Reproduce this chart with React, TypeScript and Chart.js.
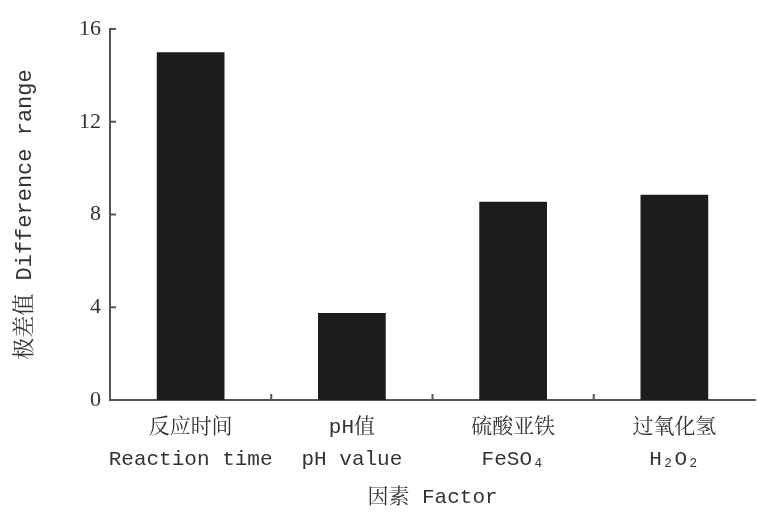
import React, { useEffect, useRef } from "react";
import { Chart, registerables } from "chart.js";

Chart.register(...registerables);

const categoriesCn = ["反应时间", "pH值", "硫酸亚铁", "过氧化氢"];
const categoriesEn = ["Reaction time", "pH value", "FeSO₄", "H₂O₂"];
const rangeValues = [15.0, 3.75, 8.55, 8.85];
const yTicks = [0, 4, 8, 12, 16];

const MONO = "'Liberation Mono', 'Noto Serif CJK SC', 'Noto Sans CJK SC', monospace";
const SERIF = "'Liberation Serif', serif";
const AXIS_COLOR = "#555555";
const TEXT_COLOR = "#333333";

const innerTicks = {
  id: "innerTicks",
  afterDraw(chart: any) {
    const ctx = chart.ctx;
    const x = chart.scales.x;
    const y = chart.scales.y;
    const area = chart.chartArea;
    ctx.save();
    ctx.strokeStyle = AXIS_COLOR;
    ctx.lineWidth = 2;
    yTicks.forEach((v) => {
      const py = y.getPixelForValue(v);
      ctx.beginPath();
      ctx.moveTo(area.left, py);
      ctx.lineTo(area.left + 6, py);
      ctx.stroke();
    });
    const n = categoriesCn.length;
    for (let i = 0; i < n - 1; i++) {
      const px = (x.getPixelForValue(i) + x.getPixelForValue(i + 1)) / 2;
      ctx.beginPath();
      ctx.moveTo(px, area.bottom);
      ctx.lineTo(px, area.bottom - 6);
      ctx.stroke();
    }
    ctx.restore();
  },
};

export default function App() {
  const ref = useRef<HTMLCanvasElement>(null);
  useEffect(() => {
    document.body.style.margin = "0";
    const chart = new Chart(ref.current as HTMLCanvasElement, {
      type: "bar",
      data: {
        labels: categoriesCn.map((c, i) => [c, categoriesEn[i]]),
        datasets: [
          {
            data: rangeValues,
            backgroundColor: "#1c1c1c",
            borderWidth: 0,
            categoryPercentage: 0.42,
            barPercentage: 1,
          },
        ],
      },
      options: {
        animation: false,
        responsive: false,
        layout: { padding: { top: 29, right: 2, left: 0, bottom: 0 } },
        plugins: { legend: { display: false }, tooltip: { enabled: false } },
        scales: {
          x: {
            offset: true,
            grid: { display: false, drawTicks: false },
            border: { display: true, color: AXIS_COLOR, width: 2 },
            ticks: {
              color: TEXT_COLOR,
              font: { family: MONO, size: 21, lineHeight: 1.55 },
              padding: 11,
              maxRotation: 0,
              autoSkip: false,
            },
            title: {
              display: true,
              text: "因素 Factor",
              color: TEXT_COLOR,
              font: { family: MONO, size: 21 },
              padding: { top: 8, bottom: 5 },
            },
            afterFit(scale: any) {
              scale.height = 115;
            },
          },
          y: {
            min: 0,
            max: 16,
            afterBuildTicks(scale: any) {
              scale.ticks = yTicks.map((v) => ({ value: v }));
            },
            grid: { display: false, drawTicks: false },
            border: { display: true, color: AXIS_COLOR, width: 2 },
            ticks: {
              color: TEXT_COLOR,
              font: { family: SERIF, size: 22 },
              padding: 9,
            },
            title: {
              display: true,
              text: "极差值 Difference range",
              color: TEXT_COLOR,
              font: { family: MONO, size: 22 },
              padding: { top: 12, bottom: 10 },
            },
            afterFit(scale: any) {
              scale.width = 110;
            },
          },
        },
      },
      plugins: [innerTicks],
    });
    return () => chart.destroy();
  }, []);
  return (
    <div style={{ position: "fixed", left: 0, top: 0, width: 757, height: 515, background: "#fff" }}>
      <canvas ref={ref} width={757} height={515} />
    </div>
  );
}
